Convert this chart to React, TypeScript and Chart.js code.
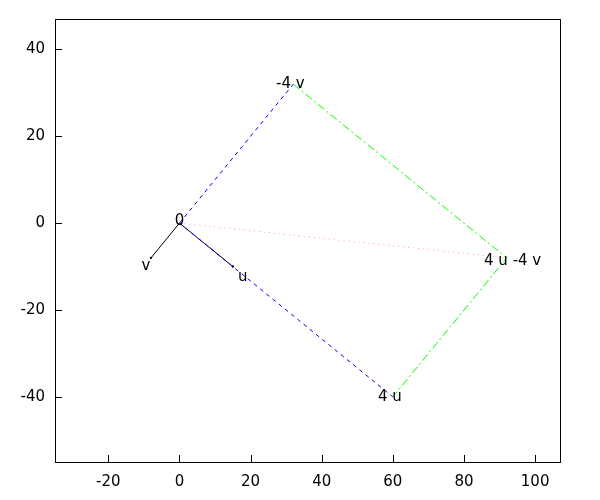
import React, { useEffect, useRef } from "react";
import { Chart, registerables } from "chart.js";

Chart.register(...registerables);

// Vectors
const U = { x: 15, y: -10 };
const V = { x: -8, y: -8 };
const ORIGIN = { x: 0, y: 0 };
const FOUR_U = { x: 60, y: -40 };
const MINUS_FOUR_V = { x: 32, y: 32 };
const SUM = { x: 92, y: -8 };

// Axis settings
const X_MIN = -35;
const X_MAX = 107;
const Y_MIN = -55;
const Y_MAX = 47;
const TICK_STEP = 20;

// Labels: text and anchor point (data coordinates)
const LABEL_TEXTS = ["0", "u", "v", "4 u", "-4 v", "4 u -4 v"];
const LABEL_ANCHORS = [ORIGIN, U, V, FOUR_U, MINUS_FOUR_V, SUM];

const FONT = '"DejaVu Sans", sans-serif';

export default function App() {
  const ref = useRef<HTMLCanvasElement | null>(null);

  useEffect(() => {
    document.body.style.margin = "0";
    const canvas = ref.current;
    if (!canvas) return;

    // pixel offsets (layout only) for each label
    const labelOffsets: Record<string, [number, number]> = {
      "0": [0, -2],
      u: [10, 11],
      v: [-5, 8],
      "4 u": [-3, 0],
      "-4 v": [-3, 0],
      "4 u -4 v": [6, 3],
    };

    const overlay = {
      id: "overlay",
      afterDraw(chart: any) {
        const { ctx, chartArea } = chart;
        const xs = chart.scales.x;
        const ys = chart.scales.y;
        ctx.save();
        // frame
        ctx.strokeStyle = "#000";
        ctx.lineWidth = 1;
        ctx.setLineDash([]);
        ctx.strokeRect(
          Math.round(chartArea.left) + 0.5,
          Math.round(chartArea.top) + 0.5,
          Math.round(chartArea.right - chartArea.left),
          Math.round(chartArea.bottom - chartArea.top)
        );
        // inward tick marks
        ctx.beginPath();
        xs.ticks.forEach((t: any) => {
          const px = Math.round(xs.getPixelForValue(t.value)) + 0.5;
          ctx.moveTo(px, chartArea.bottom);
          ctx.lineTo(px, chartArea.bottom - 7);
        });
        ys.ticks.forEach((t: any) => {
          const py = Math.round(ys.getPixelForValue(t.value)) + 0.5;
          ctx.moveTo(chartArea.left, py);
          ctx.lineTo(chartArea.left + 7, py);
        });
        ctx.stroke();
        // labels
        ctx.fillStyle = "#000";
        ctx.font = `15px ${FONT}`;
        ctx.textAlign = "center";
        ctx.textBaseline = "middle";
        LABEL_TEXTS.forEach((txt, i) => {
          const a = LABEL_ANCHORS[i];
          const off = labelOffsets[txt] || [0, 0];
          ctx.fillText(
            txt,
            xs.getPixelForValue(a.x) + off[0],
            ys.getPixelForValue(a.y) + off[1]
          );
        });
        ctx.restore();
      },
    };

    const chart = new Chart(canvas, {
      type: "scatter",
      data: {
        datasets: [
          {
            data: [ORIGIN, MINUS_FOUR_V, { x: NaN, y: NaN }, ORIGIN, FOUR_U],
            showLine: true,
            spanGaps: false,
            borderColor: "#0000ff",
            borderWidth: 1,
            borderDash: [4, 4],
            pointRadius: 0,
          },
          {
            data: [MINUS_FOUR_V, SUM, FOUR_U],
            showLine: true,
            borderColor: "#00ff00",
            borderWidth: 1,
            borderDash: [8, 3, 2, 3],
            pointRadius: 0,
          },
          {
            data: [ORIGIN, SUM],
            showLine: true,
            borderColor: "#ff9aa8",
            borderWidth: 1,
            borderDash: [1, 4],
            pointRadius: 0,
          },
          {
            data: [V, ORIGIN, U],
            showLine: true,
            borderColor: "#000",
            borderWidth: 1,
            pointRadius: [1.2, 0, 1.2],
            pointBackgroundColor: "#000",
            pointBorderWidth: 0,
          },
        ],
      },
      options: {
        responsive: false,
        animation: false,
        events: [],
        layout: { padding: { top: 19, right: 40, left: 0, bottom: 0 } },
        plugins: {
          legend: { display: false },
          tooltip: { enabled: false },
        },
        scales: {
          x: {
            type: "linear",
            min: X_MIN,
            max: X_MAX,
            grid: { display: false },
            border: { display: false },
            ticks: {
              stepSize: TICK_STEP,
              includeBounds: false,
              color: "#000",
              font: { family: FONT, size: 15 },
              padding: 3,
              maxRotation: 0,
            },
            afterFit(scale: any) {
              scale.height = 38;
            },
          },
          y: {
            type: "linear",
            min: Y_MIN,
            max: Y_MAX,
            grid: { display: false },
            border: { display: false },
            ticks: {
              stepSize: TICK_STEP,
              includeBounds: false,
              color: "#000",
              font: { family: FONT, size: 15 },
              padding: 2,
            },
            afterFit(scale: any) {
              scale.width = 55;
            },
          },
        },
      },
      plugins: [overlay],
    } as any);

    return () => chart.destroy();
  }, []);

  return (
    <div style={{ width: 600, height: 500 }}>
      <canvas ref={ref} width={600} height={500} />
    </div>
  );
}
